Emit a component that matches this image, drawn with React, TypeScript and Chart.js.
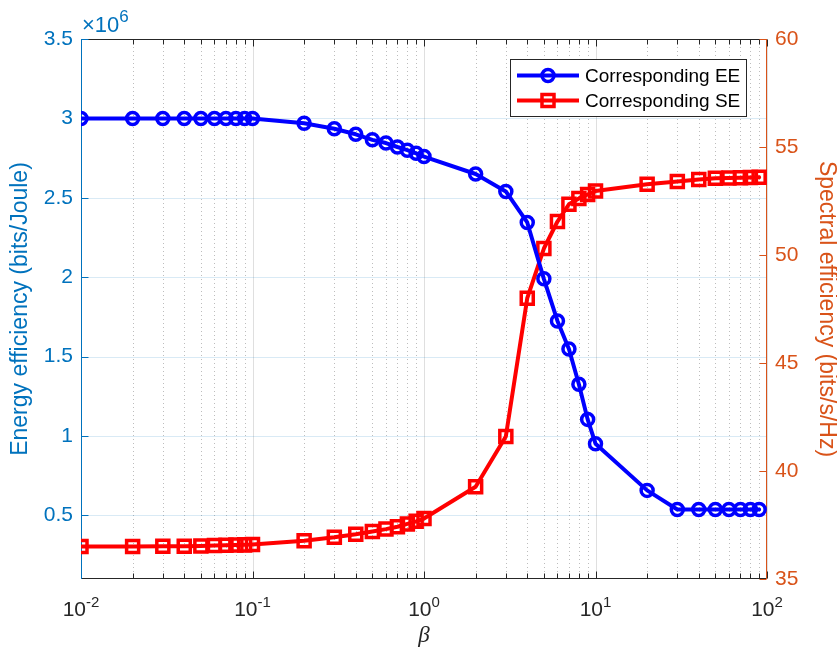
import React, { useEffect, useRef } from "react";
import { Chart, registerables } from "chart.js";

Chart.register(...registerables);

const BETA = [
  0.01, 0.02, 0.03, 0.04, 0.05, 0.06, 0.07, 0.08, 0.09,
  0.1, 0.2, 0.3, 0.4, 0.5, 0.6, 0.7, 0.8, 0.9,
  1, 2, 3, 4, 5, 6, 7, 8, 9,
  10, 20, 30, 40, 50, 60, 70, 80, 90,
];

const EE = [
  3.0e6, 3.0e6, 3.0e6, 3.0e6, 3.0e6, 3.0e6, 3.0e6, 3.0e6, 3.0e6,
  3.0e6, 2.97e6, 2.935e6, 2.9e6, 2.865e6, 2.845e6, 2.82e6, 2.8e6, 2.78e6,
  2.76e6, 2.65e6, 2.54e6, 2.345e6, 1.99e6, 1.725e6, 1.548e6, 1.326e6, 1.105e6,
  0.952e6, 0.658e6, 0.538e6, 0.538e6, 0.538e6, 0.538e6, 0.538e6, 0.538e6, 0.538e6,
];

const SE = [
  36.5, 36.5, 36.52, 36.52, 36.53, 36.55, 36.56, 36.57, 36.58,
  36.6, 36.77, 36.93, 37.07, 37.2, 37.31, 37.42, 37.55, 37.67,
  37.8, 39.27, 41.6, 48.0, 50.3, 51.55, 52.35, 52.62, 52.8,
  52.96, 53.28, 53.4, 53.5, 53.55, 53.57, 53.58, 53.59, 53.6,
];

const X_MAJOR = [0.01, 0.1, 1, 10, 100];
const X_MINOR = [
  0.02, 0.03, 0.04, 0.05, 0.06, 0.07, 0.08, 0.09,
  0.2, 0.3, 0.4, 0.5, 0.6, 0.7, 0.8, 0.9,
  2, 3, 4, 5, 6, 7, 8, 9,
  20, 30, 40, 50, 60, 70, 80, 90,
];
const YL_TICKS = [0.5e6, 1e6, 1.5e6, 2e6, 2.5e6, 3e6, 3.5e6];
const YR_TICKS = [35, 40, 45, 50, 55, 60];

const SERIES_LABELS = ["Corresponding EE", "Corresponding SE"];
const X_TITLE = "β";
const YL_TITLE = "Energy efficiency (bits/Joule)";
const YR_TITLE = "Spectral efficiency (bits/s/Hz)";
const YL_EXPONENT = "6";

const BLUE = "#0000FF";
const RED = "#FF0000";
const LEFT_C = "#0072BD";
const RIGHT_C = "#D95319";
const AXIS_C = "#262626";
const FONT = "'Liberation Sans', Arial, sans-serif";

const LINE_W = 4;
const MARK_W = 3.5;
const CIRCLE_R = 6;
const RECT_R = 8.5;

const axesPlugin = {
  id: "matlabAxes",
  beforeDatasetsDraw(chart: any) {
    const { ctx, chartArea: a, scales } = chart;
    const x = scales.x;
    const yL = scales.yL;
    const yR = scales.yR;
    const ln = (x1: number, y1: number, x2: number, y2: number) => {
      ctx.beginPath();
      ctx.moveTo(x1, y1);
      ctx.lineTo(x2, y2);
      ctx.stroke();
    };
    ctx.save();
    ctx.lineWidth = 1;
    ctx.strokeStyle = "rgba(38,38,38,0.3)";
    ctx.setLineDash([1, 3]);
    for (const v of X_MINOR) {
      const px = Math.round(x.getPixelForValue(v)) + 0.5;
      ln(px, a.top, px, a.bottom);
    }
    ctx.setLineDash([]);
    ctx.strokeStyle = "rgba(38,38,38,0.15)";
    for (const v of X_MAJOR) {
      const px = Math.round(x.getPixelForValue(v)) + 0.5;
      ln(px, a.top, px, a.bottom);
    }
    ctx.strokeStyle = "rgba(0,114,189,0.15)";
    for (const v of YL_TICKS) {
      const py = Math.round(yL.getPixelForValue(v)) + 0.5;
      ln(a.left, py, a.right, py);
    }
    ctx.strokeStyle = AXIS_C;
    const top = Math.round(a.top) + 0.5;
    const bot = Math.round(a.bottom) - 0.5;
    ln(a.left, top, a.right, top);
    ln(a.left, bot, a.right, bot);
    for (const v of X_MAJOR) {
      const px = Math.round(x.getPixelForValue(v)) + 0.5;
      ln(px, bot, px, bot - 7);
      ln(px, top, px, top + 7);
    }
    for (const v of X_MINOR) {
      const px = Math.round(x.getPixelForValue(v)) + 0.5;
      ln(px, bot, px, bot - 5);
      ln(px, top, px, top + 5);
    }
    ctx.strokeStyle = LEFT_C;
    const lx = Math.round(a.left) + 0.5;
    ln(lx, a.top, lx, a.bottom);
    for (const v of YL_TICKS) {
      const py = Math.round(yL.getPixelForValue(v)) + 0.5;
      ln(lx, py, lx + 7, py);
    }
    ctx.strokeStyle = RIGHT_C;
    const rx = Math.round(a.right) - 0.5;
    ln(rx, a.top, rx, a.bottom);
    for (const v of YR_TICKS) {
      const py = Math.round(yR.getPixelForValue(v)) + 0.5;
      ln(rx, py, rx - 7, py);
    }
    ctx.restore();
  },
  afterDraw(chart: any) {
    const { ctx, chartArea: a, scales } = chart;
    const x = scales.x;
    ctx.save();
    ctx.fillStyle = AXIS_C;
    ctx.textBaseline = "alphabetic";
    ctx.textAlign = "left";
    for (const v of X_MAJOR) {
      const e = String(Math.round(Math.log10(v)));
      ctx.font = `21px ${FONT}`;
      const wb = ctx.measureText("10").width;
      ctx.font = `15px ${FONT}`;
      const we = ctx.measureText(e).width;
      const px = x.getPixelForValue(v);
      const sx = px - (wb + we) / 2;
      ctx.font = `21px ${FONT}`;
      ctx.fillText("10", sx, a.bottom + 37);
      ctx.font = `15px ${FONT}`;
      ctx.fillText(e, sx + wb, a.bottom + 28);
    }
    ctx.fillStyle = LEFT_C;
    ctx.font = `22px ${FONT}`;
    const base = "×10";
    const wbase = ctx.measureText(base).width;
    ctx.fillText(base, a.left + 1, a.top - 7);
    ctx.font = `17px ${FONT}`;
    ctx.fillText(YL_EXPONENT, a.left + 1 + wbase, a.top - 17);

    const bx = 510.5, by = 59.5, bw = 236, bh = 57;
    ctx.fillStyle = "#FFFFFF";
    ctx.fillRect(bx, by, bw, bh);
    ctx.strokeStyle = AXIS_C;
    ctx.lineWidth = 1;
    ctx.strokeRect(bx, by, bw, bh);
    const rows = [
      { y: 75.5, color: BLUE, marker: "circle" },
      { y: 100.5, color: RED, marker: "rect" },
    ];
    rows.forEach((r, i) => {
      ctx.strokeStyle = r.color;
      ctx.lineWidth = LINE_W;
      ctx.beginPath();
      ctx.moveTo(517, r.y);
      ctx.lineTo(579, r.y);
      ctx.stroke();
      ctx.lineWidth = MARK_W;
      ctx.beginPath();
      if (r.marker === "circle") {
        ctx.arc(548, r.y, CIRCLE_R, 0, Math.PI * 2);
      } else {
        const h = RECT_R * Math.SQRT1_2;
        ctx.rect(548 - h, r.y - h, 2 * h, 2 * h);
      }
      ctx.stroke();
      ctx.fillStyle = "#000000";
      ctx.font = `19px ${FONT}`;
      ctx.textBaseline = "middle";
      ctx.fillText(SERIES_LABELS[i], 585, r.y + 1);
    });
    ctx.restore();
  },
};

export default function App() {
  const ref = useRef<HTMLCanvasElement | null>(null);
  useEffect(() => {
    if (!ref.current) return;
    Chart.defaults.font.family = FONT;
    const chart = new Chart(ref.current, {
      type: "line",
      data: {
        datasets: [
          {
            label: SERIES_LABELS[0],
            data: BETA.map((b, i) => ({ x: b, y: EE[i] })),
            yAxisID: "yL",
            borderColor: BLUE,
            borderWidth: LINE_W,
            borderJoinStyle: "round",
            borderCapStyle: "round",
            pointStyle: "circle",
            pointRadius: CIRCLE_R,
            pointBorderWidth: MARK_W,
            pointBorderColor: BLUE,
            pointBackgroundColor: "rgba(0,0,0,0)",
            tension: 0,
          },
          {
            label: SERIES_LABELS[1],
            data: BETA.map((b, i) => ({ x: b, y: SE[i] })),
            yAxisID: "yR",
            borderColor: RED,
            borderWidth: LINE_W,
            borderJoinStyle: "round",
            borderCapStyle: "round",
            pointStyle: "rect",
            pointRadius: RECT_R,
            pointBorderWidth: MARK_W,
            pointBorderColor: RED,
            pointBackgroundColor: "rgba(0,0,0,0)",
            tension: 0,
          },
        ],
      },
      options: {
        animation: false,
        responsive: true,
        maintainAspectRatio: false,
        layout: { padding: { top: 39, left: 0, right: 0, bottom: 0 } },
        plugins: { legend: { display: false }, tooltip: { enabled: false } },
        events: [],
        scales: {
          x: {
            type: "logarithmic",
            position: "bottom",
            min: 0.01,
            max: 100,
            grid: { display: false, drawTicks: false },
            border: { display: false },
            ticks: { display: false },
            afterBuildTicks: (s: any) => {
              s.ticks = X_MAJOR.map((v) => ({ value: v }));
            },
            afterFit: (s: any) => {
              s.height = 69;
            },
            title: {
              display: true,
              text: X_TITLE,
              color: AXIS_C,
              font: { family: "'Liberation Serif', serif", style: "italic", size: 23, lineHeight: 1 },
              padding: { top: 0, bottom: 1 },
            },
          },
          yL: {
            type: "linear",
            position: "left",
            min: 0.1e6,
            max: 3.5e6,
            grid: { display: false, drawTicks: false },
            border: { display: false },
            afterBuildTicks: (s: any) => {
              s.ticks = YL_TICKS.map((v) => ({ value: v }));
            },
            afterFit: (s: any) => {
              s.width = 81;
            },
            ticks: {
              color: LEFT_C,
              font: { size: 21 },
              padding: 8,
              callback: (v: any) => String(Number(v) / 1e6),
            },
            title: {
              display: true,
              text: YL_TITLE,
              color: LEFT_C,
              font: { size: 23, lineHeight: 1 },
              padding: { top: 9.2, bottom: 0 },
            },
          },
          yR: {
            type: "linear",
            position: "right",
            min: 35,
            max: 60,
            grid: { display: false, drawTicks: false },
            border: { display: false },
            afterBuildTicks: (s: any) => {
              s.ticks = YR_TICKS.map((v) => ({ value: v }));
            },
            afterFit: (s: any) => {
              s.width = 70;
            },
            ticks: {
              color: RIGHT_C,
              font: { size: 21 },
              padding: 8,
              callback: (v: any) => String(v),
            },
            title: {
              display: true,
              text: YR_TITLE,
              color: RIGHT_C,
              font: { size: 23, lineHeight: 0.8 },
              padding: { top: 1.3, bottom: 0 },
            },
          },
        },
      },
      plugins: [axesPlugin],
    } as any);
    return () => chart.destroy();
  }, []);
  return (
    <div style={{ position: "absolute", left: 0, top: 0, width: 837, height: 648, background: "#fff" }}>
      <canvas ref={ref} />
    </div>
  );
}
